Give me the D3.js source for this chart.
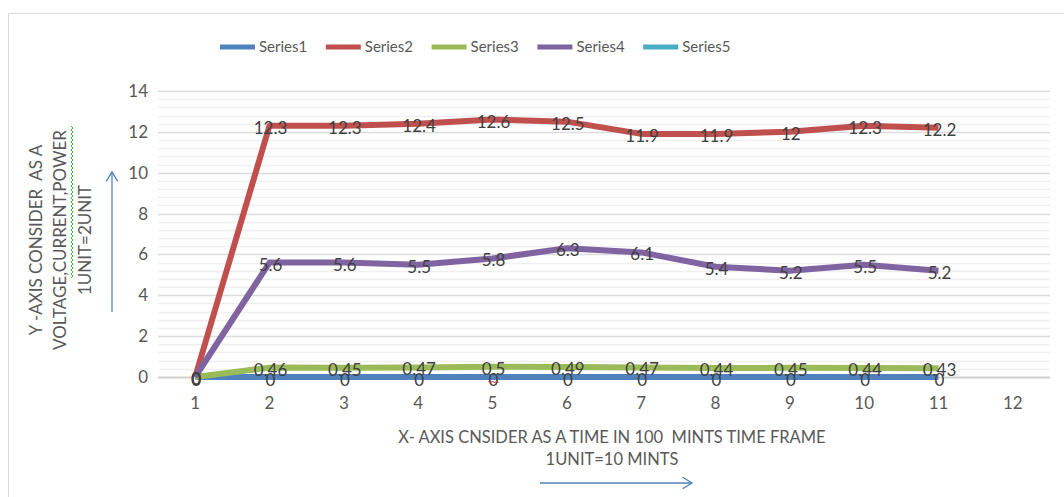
<!DOCTYPE html>
<html>
<head>
<meta charset="utf-8">
<script src="https://cdn.jsdelivr.net/npm/d3@7"></script>
<style>
  body { margin: 0; background: #fff; }
  svg { display: block; font-family: Lato, "Open Sans", sans-serif; }
</style>
</head>
<body>
<svg id="chart" width="1064" height="497"></svg>
<script>
const categories = ['1', '2', '3', '4', '5', '6', '7', '8', '9', '10', '11', '12'];
const seriesNames = ['Series1', 'Series2', 'Series3', 'Series4', 'Series5'];
const series1 = [0, 0, 0, 0, 0, 0, 0, 0, 0, 0, 0];
const series2 = [0, 12.3, 12.3, 12.4, 12.6, 12.5, 11.9, 11.9, 12, 12.3, 12.2];
const series3 = [0, 0.46, 0.45, 0.47, 0.5, 0.49, 0.47, 0.44, 0.45, 0.44, 0.43];
const series4 = [0, 5.6, 5.6, 5.5, 5.8, 6.3, 6.1, 5.4, 5.2, 5.5, 5.2];
const series5 = [];
const yTicks = [0, 2, 4, 6, 8, 10, 12, 14];
const colors = ['#4f81bd', '#c0504d', '#9bbb59', '#8064a2', '#4bacc6'];

const svg = d3.select('#chart');
const plotLeft = 158;
const plotRight = 1050;
const plotTop = 91;
const plotBottom = 377;

// outer chart frame
svg.append('rect')
  .attr('x', 8.5).attr('y', 13.5)
  .attr('width', 1070).attr('height', 500)
  .attr('fill', 'none')
  .attr('stroke', '#d9d9d9');

const x = d3.scaleBand().domain(categories).range([plotLeft, plotRight]);
const y = d3.scaleLinear().domain([0, 14]).range([plotBottom, plotTop]);

// minor gridlines
svg.append('g')
  .selectAll('line')
  .data(d3.range(0, 14.01, 0.4).filter((v) => Math.abs(v / 2 - Math.round(v / 2)) > 0.01))
  .join('line')
  .attr('x1', plotLeft).attr('x2', plotRight)
  .attr('y1', (d) => Math.round(y(d)) + 0.5)
  .attr('y2', (d) => Math.round(y(d)) + 0.5)
  .attr('stroke', '#efefef')
  .attr('stroke-width', 1.5);

// major gridlines
svg.append('g')
  .selectAll('line')
  .data(yTicks)
  .join('line')
  .attr('x1', plotLeft).attr('x2', plotRight)
  .attr('y1', (d) => Math.round(y(d)) + 0.5)
  .attr('y2', (d) => Math.round(y(d)) + 0.5)
  .attr('stroke', (d) => (d === 0 ? '#d0d0d0' : '#dcdcdc'))
  .attr('stroke-width', (d) => (d === 0 ? 2 : 1.5));

const yAxis = svg.append('g')
  .attr('transform', `translate(${plotLeft},0)`)
  .call(d3.axisLeft(y).tickValues(yTicks).tickSize(0).tickPadding(10));
yAxis.select('.domain').remove();
yAxis.selectAll('text')
  .attr('font-size', 17)
  .attr('font-family', 'Lato, sans-serif')
  .attr('fill', '#595959');

const xAxis = svg.append('g')
  .attr('transform', `translate(0,${plotBottom})`)
  .call(d3.axisBottom(x).tickSize(0).tickPadding(20));
xAxis.select('.domain').remove();
xAxis.selectAll('text')
  .attr('font-size', 17)
  .attr('font-family', 'Lato, sans-serif')
  .attr('fill', '#595959');

const allSeries = [series1, series2, series3, series4, series5];
const cx = (i) => x(categories[i]) + x.bandwidth() / 2;

const line = d3.line()
  .x((d, i) => cx(i))
  .y((d) => y(d));

svg.append('g')
  .selectAll('path')
  .data(allSeries.filter((s) => s.length > 0))
  .join('path')
  .attr('d', (d) => line(d))
  .attr('fill', 'none')
  .attr('stroke', (d) => colors[allSeries.indexOf(d)])
  .attr('stroke-width', 6)
  .attr('stroke-linejoin', 'round');

// data labels on top of every line
const labelData = [];
allSeries.forEach((s, si) => {
  s.forEach((v, i) => labelData.push({ si, i, v }));
});
svg.append('g')
  .selectAll('text')
  .data(labelData)
  .join('text')
  .attr('x', (d) => cx(d.i) + 1)
  .attr('y', (d) => y(d.v) + (d.si === 0 ? 3 : 2))
  .attr('dy', '0.35em')
  .attr('text-anchor', 'middle')
  .attr('font-size', 17)
  .attr('fill', '#404040')
  .text((d) => String(d.v));

// spell-check squiggle under one label
function squiggle(x0, y0, len, vertical, color) {
  const pts = [];
  for (let k = 0; k <= len; k += 2) {
    const off = (k / 2) % 2 === 0 ? 0 : 2;
    pts.push(vertical ? [y0 + off, x0 - k] : [x0 + k, y0 + off]);
  }
  svg.append('path')
    .attr('d', d3.line()(pts))
    .attr('fill', 'none')
    .attr('stroke', color)
    .attr('stroke-width', 1);
}
squiggle(cx(4) - 4, 381, 10, false, '#e02020');

// legend
const legend = svg.append('g');
seriesNames.forEach((name, i) => {
  const lx = 220 + i * 105.8;
  legend.append('line')
    .attr('x1', lx).attr('x2', lx + 35)
    .attr('y1', 47).attr('y2', 47)
    .attr('stroke', colors[i])
    .attr('stroke-width', 5);
  legend.append('text')
    .attr('x', lx + 39).attr('y', 47)
    .attr('dy', '0.35em')
    .attr('font-size', 15)
    .attr('fill', '#595959')
    .text(name);
});

// y title
const yTitle = ['Y -AXIS CONSIDER  AS A', 'VOLTAGE,CURRENT,POWER', '1UNIT=2UNIT'];
yTitle.forEach((t, i) => {
  svg.append('text')
    .attr('transform', `translate(${36 + i * 24.5},240) rotate(-90)`)
    .attr('dy', '0.35em')
    .attr('text-anchor', 'middle')
    .attr('font-size', 17)
    .attr('fill', '#595959')
    .style('white-space', 'pre')
    .text(t);
});
squiggle(278, 71, 152, true, '#3cb83c');

// x title
const xTitle = ['X- AXIS CNSIDER AS A TIME IN 100  MINTS TIME FRAME', '1UNIT=10 MINTS'];
xTitle.forEach((t, i) => {
  svg.append('text')
    .attr('x', 612).attr('y', 437 + i * 22)
    .attr('dy', '0.35em')
    .attr('text-anchor', 'middle')
    .attr('font-size', 16.5)
    .attr('fill', '#595959')
    .style('white-space', 'pre')
    .text(t);
});

// hand drawn arrows
function arrow(x1, y1, x2, y2) {
  const g = svg.append('g')
    .attr('stroke', '#4f81bd')
    .attr('stroke-width', 1.3)
    .attr('fill', 'none');
  g.append('line').attr('x1', x1).attr('y1', y1).attr('x2', x2).attr('y2', y2);
  const a = Math.atan2(y2 - y1, x2 - x1);
  const s = 11;
  const p1 = [x2 - s * Math.cos(a - 0.55), y2 - s * Math.sin(a - 0.55)];
  const p2 = [x2 - s * Math.cos(a + 0.55), y2 - s * Math.sin(a + 0.55)];
  g.append('path').attr('d', d3.line()([p1, [x2, y2], p2]));
}
arrow(112, 312, 112, 172);
arrow(540, 483, 692, 483);
</script>
</body>
</html>
